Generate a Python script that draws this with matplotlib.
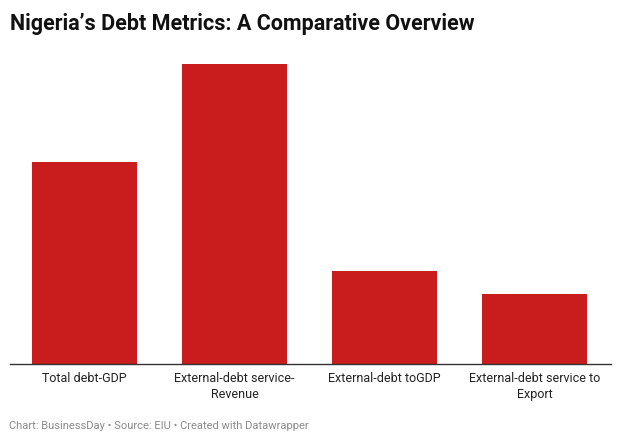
import numpy as np
import matplotlib.pyplot as plt

# values (no axis shown)
categories = ['Total debt-GDP', 'External-debt service-\nRevenue',
              'External-debt toGDP', 'External-debt service to\nExport']
values = [40.4, 60.0, 18.6, 14.0]

plt.rcParams['font.family'] = ['Roboto', 'DejaVu Sans']

fig = plt.figure(figsize=(6.21, 4.43), dpi=100)
W, H = 621, 443
ax = fig.add_axes([10 / W, (H - 364) / H, 601 / W, 300 / H])

x = np.arange(len(categories))
ax.bar(x, values, width=0.7, color='#c91c1c')
ax.set_xlim(-0.497, 3.51)
ax.set_ylim(0, max(values))

for s in ['top', 'right', 'left']:
    ax.spines[s].set_visible(False)
ax.spines['bottom'].set_color('#333333')
ax.spines['bottom'].set_linewidth(1)
ax.set_yticks([])
ax.set_xticks(x)
ax.set_xticklabels(categories, fontsize=9, color='#222222', linespacing=1.25)
ax.tick_params(axis='x', length=0, pad=6)

fig.text(10 / W, 1 - 13 / H, 'Nigeria’s Debt Metrics: A Comparative Overview',
         fontsize=15.5, fontweight='bold', va='top', ha='left', color='#111111')
fig.text(9 / W, 1 - 426 / H, 'Chart: BusinessDay • Source: EIU • Created with Datawrapper',
         fontsize=8, color='#8a8a8a', va='center', ha='left')

fig.savefig('out.png', dpi=100)
